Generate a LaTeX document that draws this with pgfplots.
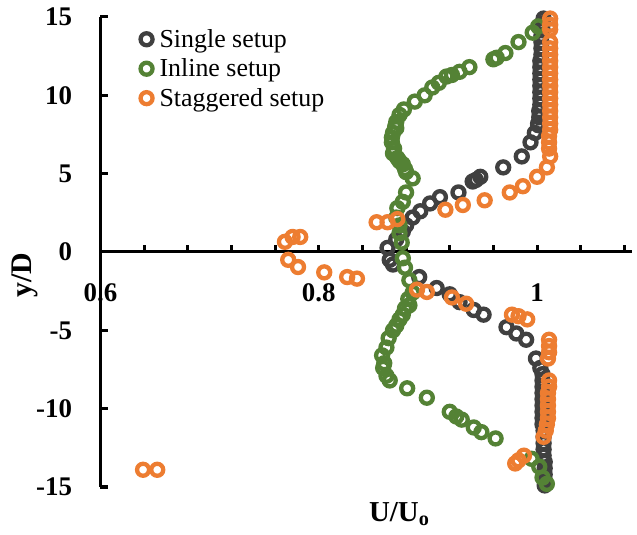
\documentclass[border=0pt]{standalone}
\usepackage{pgfplots}
\pgfplotsset{compat=1.18}
\usepackage{fontspec}
\setmainfont{Liberation Serif}
\definecolor{cSingle}{HTML}{404040}
\definecolor{cInline}{HTML}{548235}
\definecolor{cStag}{HTML}{ED7D31}
\begin{document}
\begin{tikzpicture}
\begin{axis}[
  scale only axis, width=531.5bp, height=470bp,
  xmin=0.6, xmax=1.087, ymin=-15, ymax=15,
  axis x line=middle, axis y line=left,
  axis line style={line width=3bp, -},
  hide obscured x ticks=false, hide obscured y ticks=false,
  xtick={0.6,0.8,1}, xticklabels={0.6,0.8,1},
  minor xtick={0.64,0.68,0.72,0.76,0.84,0.88,0.92,0.96,1.04,1.08},
  ytick={-15,-10,-5,0,5,10,15}, yticklabels={-15,-10,-5,0,5,10,15},
  tick align=inside,
  major tick length=7bp, minor tick length=7bp,
  tick style={line width=3bp, black},
  /pgf/number format/assume math mode=true,
  ticklabel style={font=\fontsize{27}{30}\selectfont\bfseries},
  xticklabel style={anchor=north, yshift=-28bp},
  yticklabel style={anchor=east, xshift=-25bp},
  every axis x label/.style={at={(rel axis cs:0.562,-0.057)}, anchor=center, font=\fontsize{29}{32}\selectfont\bfseries},
  every axis y label/.style={at={(rel axis cs:-0.142,0.451)}, anchor=center, rotate=90, font=\fontsize{30}{32}\selectfont\bfseries},
  xlabel={U/U\textsubscript{o}},
  ylabel={y/D},
  legend style={at={(rel axis cs:0.075,0.978)}, anchor=north west, draw=none, fill=none,
    font=\fontsize{26}{28}\selectfont, row sep=6bp, column sep=5bp, inner sep=0pt},
  legend cell align=left,
  clip=false,
]
\addplot[only marks, mark=o, mark size=6bp, mark options={line width=4.3bp, draw=cSingle}] coordinates {
(1.006,14.9)(1.005,14.6)(1.005,14.2)(1.004,13.8)(1.004,13.4)(1.004,13.0)(1.004,12.6)(1.003,12.2)(1.003,11.8)(1.003,11.4)(1.003,11.0)(1.003,10.6)(1.003,10.2)(1.003,9.8)(1.003,9.4)(1.002,9.0)(1.002,8.6)(1.001,8.2)
(1.001,8.1)(0.998,7.6)(0.994,7.0)(0.986,6.1)(0.969,5.4)(0.948,4.8)(0.944,4.6)(0.941,4.5)(0.928,3.8)(0.911,3.5)(0.902,3.1)(0.893,2.6)(0.886,2.2)(0.880,1.7)(0.877,1.3)(0.871,0.8)(0.863,0.26)
(0.865,-0.5)(0.868,-0.8)(0.892,-1.6)(0.908,-2.3)(0.920,-2.7)(0.929,-3.2)(0.942,-3.7)(0.951,-4.0)(0.972,-4.8)(0.981,-5.2)(0.990,-5.6)(0.999,-6.8)(1.003,-7.4)
(1.005,-7.8)(1.005,-8.2)(1.005,-8.6)(1.005,-9.0)(1.005,-9.4)(1.005,-9.8)(1.005,-10.2)(1.005,-10.6)(1.005,-11.0)(1.006,-11.4)(1.006,-11.8)(1.006,-12.2)(1.006,-12.6)(1.006,-13.0)(1.007,-13.4)(1.007,-13.8)(1.007,-14.2)(1.007,-14.6)(1.007,-14.9)
};
\addlegendentry{Single setup}
\addplot[only marks, mark=o, mark size=6bp, mark options={line width=4.3bp, draw=cInline}] coordinates {
(1.001,14.4)(0.996,14.0)(0.983,13.4)(0.971,12.7)(0.963,12.4)(0.960,12.3)
(0.938,11.8)(0.929,11.5)(0.922,11.3)(0.917,11.2)(0.910,10.8)(0.904,10.5)(0.897,10.0)(0.888,9.6)(0.878,9.1)(0.874,8.75)(0.871,8.3)
(0.870,8.0)(0.871,7.9)(0.868,7.6)(0.867,7.3)(0.867,7.0)(0.869,6.6)(0.868,6.3)(0.872,6.0)(0.874,5.8)(0.877,5.6)(0.879,5.3)(0.880,5.1)(0.886,4.7)(0.880,3.8)(0.877,3.2)(0.872,2.8)(0.871,2.2)(0.874,1.7)(0.874,1.2)(0.876,0.6)
(0.877,-0.4)(0.879,-1.0)(0.883,-1.8)(0.886,-2.6)(0.882,-3.0)(0.883,-3.4)(0.879,-3.6)(0.877,-4.0)(0.874,-4.3)(0.871,-4.7)(0.868,-5.0)(0.864,-5.5)(0.862,-6.1)(0.858,-6.6)(0.860,-7.1)(0.859,-7.4)
(0.862,-7.9)(0.865,-8.2)(0.881,-8.7)(0.899,-9.3)(0.920,-10.2)(0.926,-10.5)(0.931,-10.7)(0.942,-11.2)(0.949,-11.5)(0.962,-11.9)(0.995,-13.2)(1.002,-13.7)(1.005,-14.4)(1.009,-14.8)
};
\addlegendentry{Inline setup}
\addplot[only marks, mark=o, mark size=6bp, mark options={line width=4.3bp, draw=cStag}] coordinates {
(1.012,14.9)(1.012,14.5)(1.012,14.2)(1.012,13.4)(1.012,13.0)(1.012,12.6)(1.012,12.2)(1.012,11.8)(1.012,11.4)(1.012,11.0)(1.012,10.6)(1.012,10.2)(1.012,9.8)(1.012,9.4)(1.012,9.0)(1.012,8.6)(1.012,8.2)(1.012,7.8)(1.011,7.4)(1.011,7.0)(1.011,6.6)(1.012,6.1)
(1.009,5.4)(1.000,4.8)(0.987,4.2)(0.975,3.8)(0.952,3.3)(0.932,3.0)(0.916,2.7)(0.872,2.1)(0.863,1.9)(0.853,1.9)
(0.769,0.65)(0.776,0.96)(0.783,0.96)(0.772,-0.5)(0.781,-0.96)(0.805,-1.3)(0.826,-1.6)(0.835,-1.7)
(0.639,-13.9)(0.652,-13.9)
(0.890,-2.4)(0.899,-2.55)(0.922,-2.9)(0.935,-3.3)(0.977,-4.0)(0.983,-4.1)(0.991,-4.3)
(1.011,-5.6)(1.011,-6.0)(1.011,-6.4)(1.010,-6.8)(1.011,-8.2)(1.011,-8.6)(1.010,-9.0)(1.010,-9.4)(1.010,-9.8)(1.010,-10.2)(1.010,-10.6)(1.009,-11.0)(1.008,-11.4)(1.006,-11.8)
(0.988,-13.0)(0.983,-13.3)(0.980,-13.5)
};
\addlegendentry{Staggered setup}
\coordinate (bbll) at (rel axis cs:0,0);
\end{axis}
\pgfresetboundingbox
\path[use as bounding box] ([shift={(-100.5bp,-48bp)}]bbll) rectangle ([shift={(536.5bp,487bp)}]bbll);
\end{tikzpicture}
\end{document}
